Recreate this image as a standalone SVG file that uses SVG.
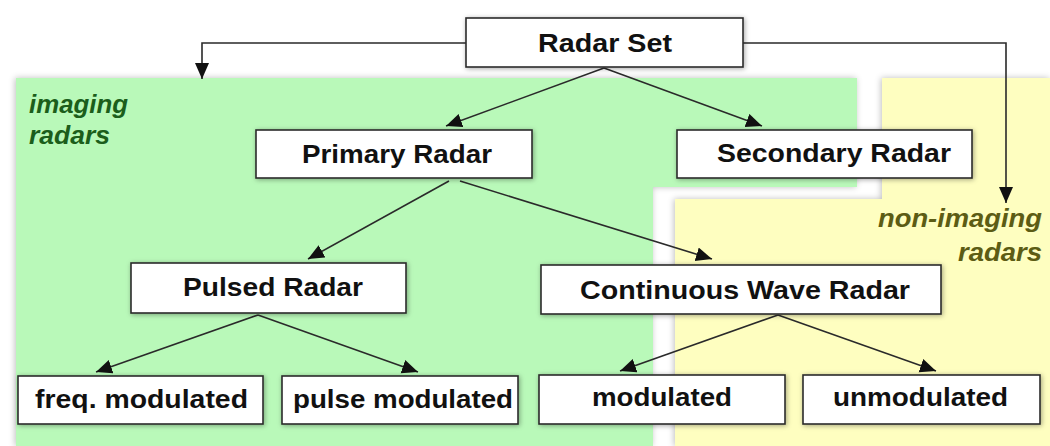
<svg xmlns="http://www.w3.org/2000/svg" width="1050" height="446" viewBox="0 0 1050 446">
<style>
.box{fill:#ffffff;stroke:#2a2a2a;stroke-width:1.6;filter:url(#sh)}
.lbl{font-family:"Liberation Sans",Arial,sans-serif;font-size:26px;font-weight:bold;fill:#111;text-anchor:middle}
.reg{font-family:"Liberation Sans",Arial,sans-serif;font-size:26px;font-weight:bold;font-style:italic}
.con{fill:none;stroke:#2a2a2a;stroke-width:1.6}
.arr{marker-end:url(#ah)}
</style>
<defs>
<filter id="sh" x="-10%" y="-30%" width="120%" height="160%">
<feDropShadow dx="1" dy="1" stdDeviation="2.5" flood-color="#000" flood-opacity="0.35"/>
</filter>
<filter id="rs" x="-5%" y="-5%" width="110%" height="110%">
<feGaussianBlur in="SourceAlpha" stdDeviation="3" result="b"/>
<feOffset dx="-1" dy="0" in="b" result="o"/>
<feFlood flood-color="#000" flood-opacity="0.25"/>
<feComposite operator="in" in2="o" result="s"/>
<feMerge><feMergeNode in="s"/><feMergeNode in="SourceGraphic"/></feMerge>
</filter>
<marker id="ah" markerUnits="userSpaceOnUse" markerWidth="18" markerHeight="16" refX="16" refY="7" orient="auto">
<path d="M0,0 L16,7 L0,14 z" fill="#111"/>
</marker>
</defs>
<g id="regions">
<path id="imaging-region" d="M16,78 H857 V187 H653 V446 H16 Z" fill="#b9f9b9" filter="url(#rs)"/>
<path id="nonimaging-region" d="M882,78 H1050 V446 H675 V199 H882 Z" fill="#fefec0" filter="url(#rs)"/>
<text class="reg" fill="#1b5e1b"><tspan x="29" y="113" textLength="99" lengthAdjust="spacingAndGlyphs">imaging</tspan><tspan x="29" y="144" textLength="81" lengthAdjust="spacingAndGlyphs">radars</tspan></text>
<text class="reg" fill="#5c5c14"><tspan x="878" y="227" textLength="164" lengthAdjust="spacingAndGlyphs">non-imaging</tspan><tspan x="958" y="261" textLength="84" lengthAdjust="spacingAndGlyphs">radars</tspan></text>
</g>
<g id="connectors">
<path class="con arr" d="M466,43 H202 V79"/>
<path class="con arr" d="M743,43 H1006 V203"/>
<path class="con arr" d="M604,68 L446,126"/>
<path class="con arr" d="M604,68 L762,126"/>
<path class="con arr" d="M449,181 L308,259"/>
<path class="con arr" d="M460,181 L712,259"/>
<path class="con arr" d="M258,315 L96,372"/>
<path class="con arr" d="M258,315 L418,372"/>
<path class="con arr" d="M778,315 L620,371"/>
<path class="con arr" d="M778,315 L936,371"/>
</g>
<g id="radar-set"><rect class="box" x="466" y="18" width="277" height="49"/><text class="lbl" x="605" y="52" textLength="134" lengthAdjust="spacingAndGlyphs">Radar Set</text></g>
<g id="primary-radar"><rect class="box" x="256" y="130" width="276" height="48"/><text class="lbl" x="397" y="163" textLength="190" lengthAdjust="spacingAndGlyphs">Primary Radar</text></g>
<g id="secondary-radar"><rect class="box" x="677" y="130" width="295" height="48"/><text class="lbl" x="834" y="162" textLength="234" lengthAdjust="spacingAndGlyphs">Secondary Radar</text></g>
<g id="pulsed-radar"><rect class="box" x="131" y="263" width="275" height="50"/><text class="lbl" x="273" y="296" textLength="180" lengthAdjust="spacingAndGlyphs">Pulsed Radar</text></g>
<g id="cw-radar"><rect class="box" x="541" y="265" width="400" height="49"/><text class="lbl" x="745" y="299" textLength="330" lengthAdjust="spacingAndGlyphs">Continuous Wave Radar</text></g>
<g id="freq-modulated"><rect class="box" x="18" y="376" width="245" height="48"/><text class="lbl" x="141.5" y="408" textLength="213" lengthAdjust="spacingAndGlyphs">freq. modulated</text></g>
<g id="pulse-modulated"><rect class="box" x="282" y="376" width="236" height="48"/><text class="lbl" x="403" y="408" textLength="220" lengthAdjust="spacingAndGlyphs">pulse modulated</text></g>
<g id="modulated"><rect class="box" x="539" y="375" width="246" height="49"/><text class="lbl" x="662" y="406" textLength="140" lengthAdjust="spacingAndGlyphs">modulated</text></g>
<g id="unmodulated"><rect class="box" x="803" y="375" width="237" height="49"/><text class="lbl" x="920.5" y="406" textLength="175" lengthAdjust="spacingAndGlyphs">unmodulated</text></g>
</svg>
